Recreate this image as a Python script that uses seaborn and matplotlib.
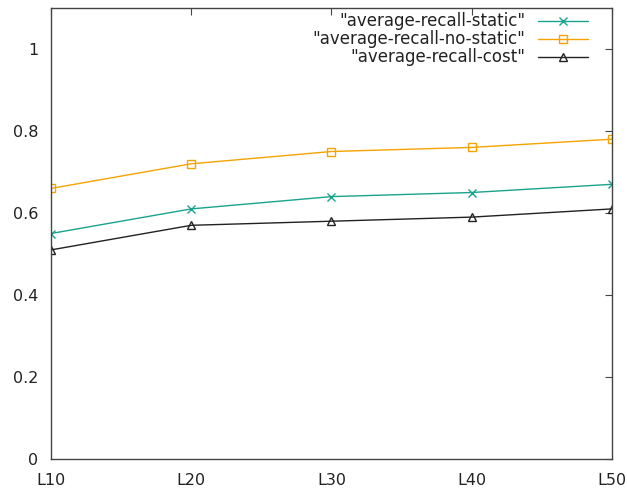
import matplotlib
matplotlib.use("Agg")
import matplotlib.pyplot as plt
import seaborn as sns
import pandas as pd

categories = ["L10", "L20", "L30", "L40", "L50"]
static = [0.55, 0.61, 0.64, 0.65, 0.67]
no_static = [0.66, 0.72, 0.75, 0.76, 0.78]
cost = [0.51, 0.57, 0.58, 0.59, 0.61]
labels = ['"average-recall-static"', '"average-recall-no-static"', '"average-recall-cost"']
yticks = [0, 0.2, 0.4, 0.6, 0.8, 1]

sns.set_style("white")
plt.rcParams['font.family'] = ['DejaVu Sans']

fig = plt.figure(figsize=(6.27, 4.88), dpi=100)
ax = fig.add_axes([0.0813, 0.0594, 0.8947, 0.9242])

pos = list(range(len(categories)))
series = [(static, labels[0], "#1aa38c", "x", "none"),
          (no_static, labels[1], "#f5a300", "s", "none"),
          (cost, labels[2], "#222222", "^", "none")]
for vals, lab, col, mk, fc in series:
    df = pd.DataFrame({"x": pos, "y": vals})
    sns.lineplot(data=df, x="x", y="y", ax=ax, color=col, marker=mk, markersize=6,
                 markerfacecolor=fc, markeredgecolor=col, markeredgewidth=1.0,
                 linewidth=1.0, label=lab)

ax.set_xlim(0, 4)
ax.set_ylim(0, 1.1)
ax.set_xticks(pos)
ax.set_xticklabels(categories)
ax.set_yticks(yticks)
ax.set_yticklabels([f"{v:g}" for v in yticks])
ax.set_xlabel("")
ax.set_ylabel("")
ax.tick_params(direction="in", top=True, right=True, length=5, width=0.8,
               labelsize=11.5, colors="#444444", labelcolor="#222222")
ax.tick_params(axis="x", pad=10)
ax.tick_params(axis="y", pad=9)
for s in ax.spines.values():
    s.set_color("#444444")
    s.set_linewidth(1.0)

leg = ax.legend(loc="upper right", bbox_to_anchor=(0.97, 1.005), frameon=False,
                markerfirst=False, fontsize=12, handlelength=3.0, labelspacing=0.0,
                borderaxespad=0.0, handletextpad=0.8)
for t in leg.get_texts():
    t.set_color("#222222")

fig.savefig("out.png", dpi=100)
